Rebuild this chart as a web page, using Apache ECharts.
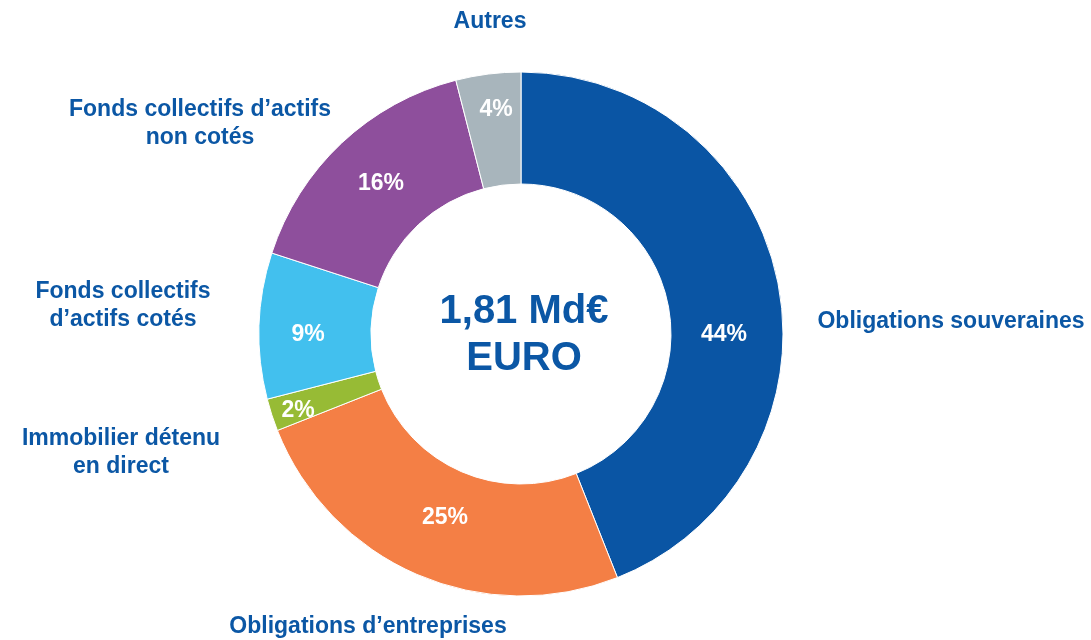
<!DOCTYPE html>
<html>
<head>
<meta charset="utf-8">
<script src="https://cdn.jsdelivr.net/npm/echarts@6/dist/echarts.min.js"></script>
<style>
  html, body { margin: 0; padding: 0; background: #fff; }
  #pieChart { width: 1091px; height: 640px; }
</style>
</head>
<body>
<div id="pieChart"></div>
<script>
// categories and shares (%), clockwise from the top
var categories = [
  'Obligations souveraines',
  'Obligations d\u2019entreprises',
  'Immobilier détenu\nen direct',
  'Fonds collectifs\nd\u2019actifs cotés',
  'Fonds collectifs d\u2019actifs\nnon cotés',
  'Autres'
];
var shares = [44, 25, 2, 9, 16, 4];
var colors = ['#0a55a4', '#f47f45', '#97bb35', '#42c0ee', '#8e4f9c', '#a8b5bc'];

// where each category name and percentage sits
var namePos = [[951, 322], [368, 627], [121, 453], [123, 306], [200, 124], [490, 22]];
var pctPos = [[724, 335], [445, 518], [298, 411], [308, 335], [381, 184], [496, 110]];

var center = [521, 334];
var pieData = categories.map(function (c, i) {
  return { name: c, value: shares[i], itemStyle: { color: colors[i] } };
});

var chart = echarts.init(document.getElementById('pieChart'));
var option = {
  animation: false,
  textStyle: { fontFamily: 'Liberation Sans' },
  graphic: [{
    type: 'text',
    x: center[0] + 3,
    y: center[1] + 1,
    style: {
      text: '1,81 Md\u20ac\nEURO',
      align: 'center',
      verticalAlign: 'middle',
      fill: '#0b57a5',
      font: 'bold 40px "Liberation Sans"',
      lineHeight: 47
    }
  }],
  series: [
    {
      type: 'pie',
      center: center,
      radius: [150, 262],
      startAngle: 90,
      clockwise: true,
      itemStyle: { borderColor: '#fff', borderWidth: 1 },
      label: {
        show: true,
        position: 'inside',
        formatter: '{c}%',
        color: '#fff',
        fontSize: 23,
        fontWeight: 'bold',
        fontFamily: 'Liberation Sans'
      },
      labelLine: { show: false },
      labelLayout: function (p) {
        var pos = pctPos[p.dataIndex];
        return { x: pos[0], y: pos[1], align: 'center', verticalAlign: 'middle' };
      },
      data: pieData
    },
    {
      type: 'pie',
      center: center,
      radius: [150, 262],
      startAngle: 90,
      clockwise: true,
      silent: true,
      itemStyle: { color: 'transparent' },
      label: {
        show: true,
        position: 'outside',
        formatter: '{b}',
        color: '#0b57a5',
        fontSize: 23,
        fontWeight: 'bold',
        lineHeight: 28,
        align: 'center',
        overflow: 'none',
        width: 400,
        fontFamily: 'Liberation Sans'
      },
      labelLine: { show: false },
      labelLayout: function (p) {
        var pos = namePos[p.dataIndex];
        return { x: pos[0], y: pos[1], align: 'center', verticalAlign: 'middle' };
      },
      data: categories.map(function (c, i) { return { name: c, value: shares[i] }; })
    }
  ]
};
chart.setOption(option);
</script>
</body>
</html>
